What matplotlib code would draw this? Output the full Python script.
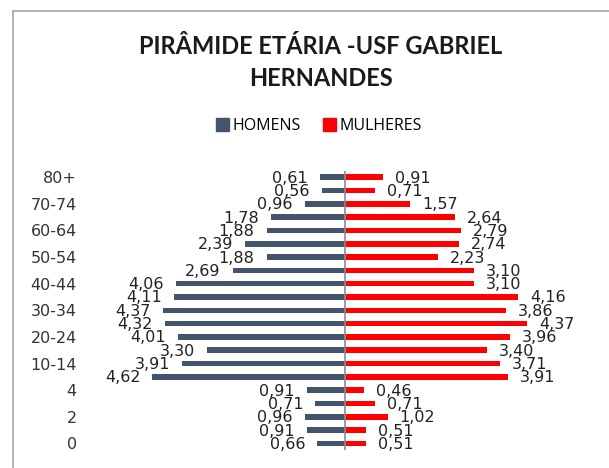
import matplotlib
matplotlib.use("Agg")
import matplotlib.pyplot as plt
from matplotlib.patches import Patch
from matplotlib.lines import Line2D

# age groups, bottom to top
faixas = ["0", "1", "2", "3", "4", "5-9", "10-14", "15-19", "20-24", "25-29",
          "30-34", "35-39", "40-44", "45-49", "50-54", "55-59", "60-64",
          "65-69", "70-74", "75-79", "80+"]
homens = [0.66, 0.91, 0.96, 0.71, 0.91, 4.62, 3.91, 3.30, 4.01, 4.32,
          4.37, 4.11, 4.06, 2.69, 1.88, 2.39, 1.88, 1.78, 0.96, 0.56, 0.61]
mulheres = [0.51, 0.51, 1.02, 0.71, 0.46, 3.91, 3.71, 3.40, 3.96, 4.37,
            3.86, 4.16, 3.10, 3.10, 2.23, 2.74, 2.79, 2.64, 1.57, 0.71, 0.91]

cor_h = "#44546A"
cor_m = "#FF0000"

fig = plt.figure(figsize=(6.09, 4.68), dpi=100)
W, H = 609, 468

# chart border (only top and left are inside the crop)
fig.add_artist(Line2D([13 / W, 13 / W], [0, 1 - 11 / H], transform=fig.transFigure,
                      color="#A6A6A6", lw=1.2))
fig.add_artist(Line2D([13 / W, 1], [1 - 11 / H, 1 - 11 / H], transform=fig.transFigure,
                      color="#A6A6A6", lw=1.2))

left = 94.8 / W
width = 500.4 / W
bottom = 1 - 450 / H
top = 1 - 170.6 / H
ax = fig.add_axes([left, bottom, width, top - bottom])

y = list(range(len(faixas)))
ax.barh(y, [-v for v in homens], height=0.42, color=cor_h)
ax.barh(y, mulheres, height=0.42, color=cor_m)

for yi, v in zip(y, homens):
    ax.annotate(f"{v:.2f}".replace(".", ","), (-v, yi), xytext=(-12, -1),
                textcoords="offset pixels", ha="right", va="center",
                fontsize=11.5, color="#222222", family="DejaVu Sans")
for yi, v in zip(y, mulheres):
    ax.annotate(f"{v:.2f}".replace(".", ","), (v, yi), xytext=(12, -1),
                textcoords="offset pixels", ha="left", va="center",
                fontsize=11.5, color="#222222", family="DejaVu Sans")

ax.set_xlim(-6, 6)
ax.set_ylim(-0.5, len(faixas) - 0.5)
ax.set_xticks([])
ax.set_yticks(y[::2])
ax.set_yticklabels(faixas[::2], fontsize=11.5, color="#333333", family="DejaVu Sans")
ax.tick_params(axis="y", length=0, pad=13)
for s in ["top", "right", "bottom", "left"]:
    ax.spines[s].set_visible(False)
ax.axvline(0, color="#8C8C8C", lw=1.2)

fig.text(321 / W, 1 - 47 / H, "PIRÂMIDE ETÁRIA -USF GABRIEL", ha="center", va="center",
         fontsize=17, fontweight="bold", family="Lato", color="#1A1A1A")
fig.text(321 / W, 1 - 78 / H, "HERNANDES", ha="center", va="center",
         fontsize=17, fontweight="bold", family="Lato", color="#1A1A1A")

handles = [Patch(color=cor_h, label="HOMENS"), Patch(color=cor_m, label="MULHERES")]
fig.legend(handles=handles, loc="center", bbox_to_anchor=(319 / W, 1 - 126 / H), ncol=2,
           frameon=False, handlelength=0.8, handleheight=0.8, handletextpad=0.25,
           columnspacing=1.4, prop={"family": "Open Sans", "size": 11.5})

fig.savefig("out.png", dpi=100)
